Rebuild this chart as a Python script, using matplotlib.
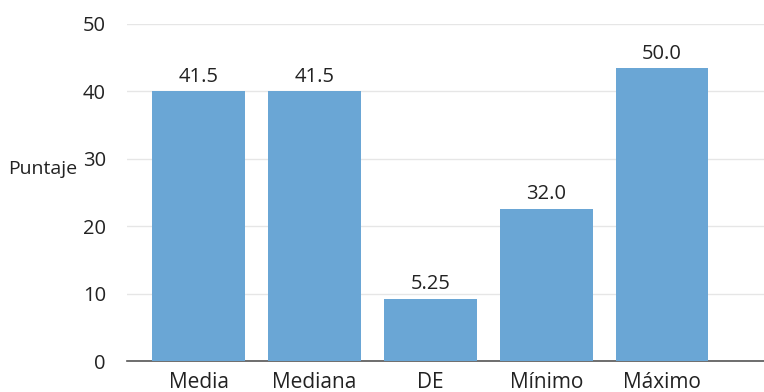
import matplotlib.pyplot as plt

categories = ["Media", "Mediana", "DE", "Mínimo", "Máximo"]
bar_heights = [40.0, 40.0, 9.2, 22.6, 43.4]
value_labels = ["41.5", "41.5", "5.25", "32.0", "50.0"]

plt.rcParams['font.family'] = ['Open Sans', 'DejaVu Sans']

fig = plt.figure(figsize=(7.64, 3.92), dpi=100)
ax = fig.add_axes([0.166, 0.079, 0.834, 0.860])

x = range(len(categories))
bars = ax.bar(x, bar_heights, width=0.8, color='#6aa6d5', zorder=3)

for b, lab in zip(bars, value_labels):
    ax.text(b.get_x() + b.get_width() / 2, b.get_height() + 0.7, lab,
            ha='center', va='bottom', fontsize=14.5, color='#222222')

ax.set_ylim(0, 50)
ax.set_xlim(-0.62, 4.88)
ax.set_yticks([0, 10, 20, 30, 40, 50])
ax.set_xticks(list(x))
ax.set_xticklabels(categories)
ax.tick_params(axis='y', length=0, labelsize=14.5, colors='#222222', pad=15)
ax.tick_params(axis='x', length=0, labelsize=15, colors='#222222', pad=8)
ax.yaxis.grid(True, color='#e6e6e6', linewidth=1, zorder=0)

for s in ['left', 'right', 'top']:
    ax.spines[s].set_visible(False)
ax.spines['bottom'].set_color('#555555')
ax.spines['bottom'].set_linewidth(1.2)

fig.text(0.010, 0.57, "Puntaje", fontsize=14, color='#222222', va='center', ha='left')

fig.savefig("out.png", dpi=100)
